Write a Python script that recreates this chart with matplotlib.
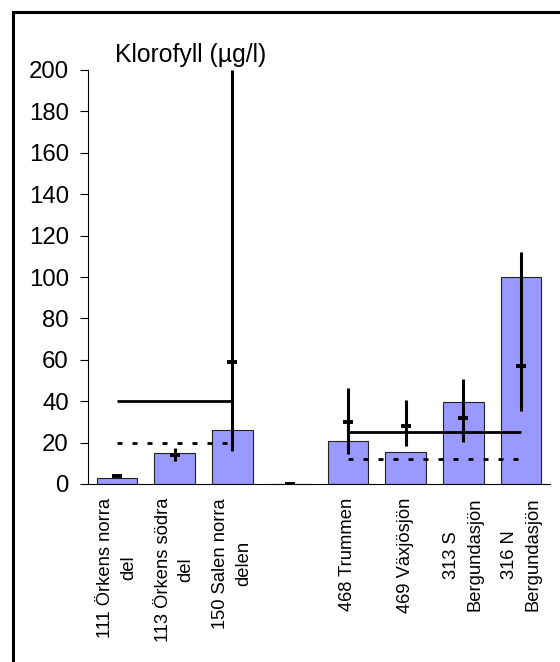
import matplotlib
matplotlib.use("Agg")
import matplotlib.pyplot as plt
from matplotlib.patches import Rectangle

plt.rcParams["font.family"] = ["Liberation Sans", "DejaVu Sans"]
plt.rcParams["lines.scale_dashes"] = False

# Lakes, chlorophyll bar values, and range (low / mean / high) per lake
labels = ["111 Örkens norra\ndel", "113 Örkens södra\ndel", "150 Salen norra\ndelen", "",
          "468 Trummen", "469 Växjösjön", "313 S\nBergundasjön", "316 N\nBergundasjön"]
bar_values = [3, 15, 26, 0, 21, 15.5, 39.5, 100]
means = [3.8, 14, 59, 0, 30, 28, 32, 57]
lows = [3.2, 11, 16, 0, 14.5, 18.5, 20.5, 35.5]
highs = [4.5, 17.5, 200, 0, 46.5, 40.5, 50.5, 112]

# Class limits drawn across each group of lakes
groups = [(0, 2), (4, 7)]
solid_limits = [40, 25]
dashed_limits = [20, 12]

yticks = list(range(0, 201, 20))

fig = plt.figure(figsize=(5.6, 6.62), dpi=100)
ax = fig.add_axes([88 / 560, 1 - 484 / 662, 462 / 560, 414 / 662])

x = list(range(len(labels)))
ax.bar(x, bar_values, width=0.7, color="#9999ff", edgecolor="#222222", linewidth=0.8, zorder=2)

for (a, b), s, d in zip(groups, solid_limits, dashed_limits):
    ax.plot([a, b], [s, s], color="black", lw=2, solid_capstyle="butt", zorder=3)
    ax.plot([a, b], [d, d], color="black", lw=2, dashes=(3.6, 7.2), dash_capstyle="butt", zorder=3)

for xi, lo, hi, m in zip(x, lows, highs, means):
    ax.plot([xi, xi], [lo, hi], color="black", lw=2.2, solid_capstyle="butt", zorder=4)
    ax.plot([xi], [m], marker="_", markersize=7.5, mew=2.8, color="black", zorder=5)

ax.set_xlim(-0.5, 7.5)
ax.set_ylim(0, 200)
ax.set_yticks(yticks)
ax.set_xticks(x)
ax.set_xticklabels(labels, rotation=90, ha="center", va="top", multialignment="center",
                   fontsize=13.2, linespacing=1.45)
ax.tick_params(axis="x", length=0, pad=10)
ax.tick_params(axis="y", direction="out", length=5.8, width=0.8, pad=8, labelsize=17.3)

for side in ["top", "right"]:
    ax.spines[side].set_visible(False)
for side in ["left", "bottom"]:
    ax.spines[side].set_linewidth(0.8)

ax.text((115 - 88) / 462, (484 - 62) / 414, "Klorofyll (µg/l)", transform=ax.transAxes,
        ha="left", va="baseline", fontsize=17.8)

# outer frame around the figure
fig.patches.append(Rectangle((13 / 560, -0.1), 1.2, 1.1 - 12 / 662, transform=fig.transFigure,
                             fill=False, edgecolor="black", linewidth=2.2))

fig.savefig("out.png", dpi=100)
